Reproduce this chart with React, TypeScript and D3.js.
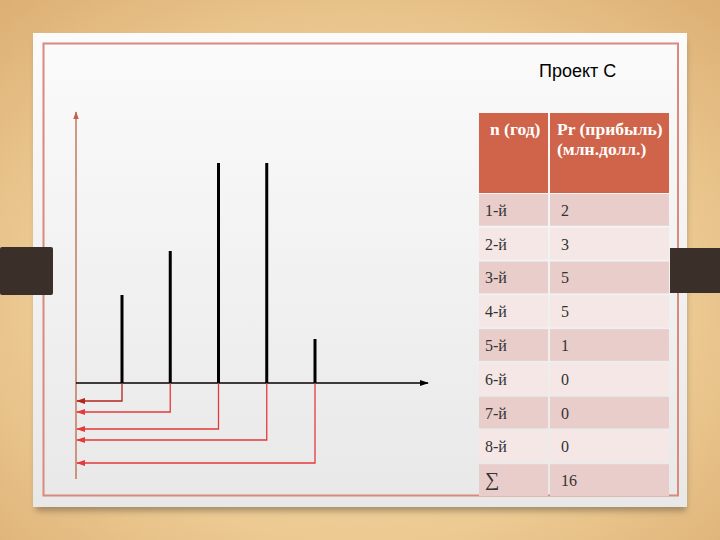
import React from 'react';
import * as d3 from 'd3';

const title = 'Проект С';
const yearLabels = ['1-й', '2-й', '3-й', '4-й', '5-й', '6-й', '7-й', '8-й'];
const profits = [2, 3, 5, 5, 1, 0, 0, 0];
const headerCol1 = 'n (год)';
const headerCol2 = ['Pr (прибыль)', '(млн.долл.)'];
const sumLabel = '∑';
// depth (px below axis) of each return arrow, in bar order
const returnDepths = [18, 29, 46, 57, 80];

const W = 720, H = 540;

export default function App() {
  const bars = profits
    .map((v, i) => ({ year: i + 1, value: v }))
    .filter((d) => d.value > 0);

  const x = d3.scaleLinear().domain([1, 5]).range([122, 315]);
  const y = d3.scaleLinear().domain([0, 5]).range([383, 163]);
  const axisX0 = 76;
  const axisY0 = y(0);

  const rows = [
    ...yearLabels.map((l, i) => ({ label: l, value: String(profits[i]) })),
    { label: sumLabel, value: String(d3.sum(profits)) },
  ];
  const rowScale = d3
    .scaleBand<string>()
    .domain(rows.map((r) => r.label))
    .range([193, 497]);
  const colX = [479, 549, 669];
  const headerTop = 113;

  const dark = '#e9cdca';
  const light = '#f4e7e6';
  const headFont = "'Liberation Serif', 'Times New Roman', serif";

  return (
    <svg
      width={W}
      height={H}
      style={{ position: 'absolute', left: 0, top: 0 }}
      xmlns="http://www.w3.org/2000/svg"
    >
      <defs>
        <radialGradient id="wood" cx="50%" cy="55%" r="75%">
          <stop offset="0%" stopColor="#f4ddb0" />
          <stop offset="60%" stopColor="#ecca92" />
          <stop offset="100%" stopColor="#dcae73" />
        </radialGradient>
        <linearGradient id="panel" x1="0" y1="0" x2="0" y2="1">
          <stop offset="0%" stopColor="#fbfbfb" />
          <stop offset="100%" stopColor="#e8e8e8" />
        </linearGradient>
        <filter id="shadow" x="-10%" y="-10%" width="120%" height="130%">
          <feGaussianBlur stdDeviation="3" />
        </filter>
        <marker id="arrBlack" viewBox="0 0 10 10" refX="9" refY="5" markerWidth="7" markerHeight="7" orient="auto">
          <path d="M0,1.5 L10,5 L0,8.5 z" fill="#000" />
        </marker>
        <marker id="arrAxis" viewBox="0 0 10 10" refX="9" refY="5" markerWidth="6" markerHeight="6" orient="auto">
          <path d="M0,1.5 L10,5 L0,8.5 z" fill="#c0634a" />
        </marker>
        <marker id="arrRed" viewBox="0 0 10 10" refX="9" refY="5" markerWidth="7" markerHeight="7" orient="auto">
          <path d="M0,1.5 L10,5 L0,8.5 z" fill="#e5393b" />
        </marker>
        <marker id="arrDark" viewBox="0 0 10 10" refX="9" refY="5" markerWidth="7" markerHeight="7" orient="auto">
          <path d="M0,1.5 L10,5 L0,8.5 z" fill="#b3261e" />
        </marker>
      </defs>

      {/* background */}
      <rect x={0} y={0} width={W} height={H} fill="url(#wood)" />
      {/* panel shadow */}
      <rect x={36} y={40} width={650} height={471} fill="#6b5a45" opacity={0.55} filter="url(#shadow)" />
      {/* panel */}
      <rect x={33} y={33} width={654} height={474} fill="url(#panel)" />
      {/* red frame */}
      <rect x={43.5} y={43.5} width={634.5} height={452} fill="none" stroke="#d98a7d" strokeWidth={2} />

      {/* side tabs */}
      <rect x={0} y={247} width={53} height={48} fill="#3a2f29" rx={2} />
      <rect x={670} y={248} width={50} height={45} fill="#3a2f29" />

      {/* title */}
      <text x={539} y={77} fontFamily="'Liberation Sans', Arial, sans-serif" fontSize={18} fill="#000">
        {title}
      </text>

      {/* vertical axis */}
      <line x1={axisX0} y1={479} x2={axisX0} y2={112} stroke="#c0634a" strokeWidth={1.3} markerEnd="url(#arrAxis)" />
      {/* horizontal axis */}
      <line x1={axisX0} y1={axisY0} x2={428} y2={axisY0} stroke="#000" strokeWidth={1.3} markerEnd="url(#arrBlack)" />

      {/* return connectors */}
      {bars.map((d, i) => {
        const bx = x(d.year);
        const yy = axisY0 + returnDepths[i];
        const col = i === 0 ? '#b3261e' : '#e5393b';
        return (
          <path
            key={'c' + i}
            d={`M${bx},${axisY0} L${bx},${yy} L${axisX0 + 1},${yy}`}
            fill="none"
            stroke={col}
            strokeWidth={1.3}
            markerEnd={i === 0 ? 'url(#arrDark)' : 'url(#arrRed)'}
          />
        );
      })}

      {/* bars */}
      {bars.map((d, i) => (
        <line
          key={'b' + i}
          x1={x(d.year)}
          x2={x(d.year)}
          y1={y(0)}
          y2={y(d.value)}
          stroke="#000"
          strokeWidth={3}
        />
      ))}

      {/* table header */}
      <rect x={colX[0]} y={headerTop} width={colX[1] - colX[0] - 1} height={80} fill="#d0644a" />
      <rect x={colX[1] + 1} y={headerTop} width={colX[2] - colX[1] - 1} height={80} fill="#d0644a" />
      <text x={490} y={135} fontFamily={headFont} fontWeight="bold" fontSize={17.5} fill="#fff">
        {headerCol1}
      </text>
      <text x={557} y={135} fontFamily={headFont} fontWeight="bold" fontSize={17.5} fill="#fff">
        {headerCol2[0]}
      </text>
      <text x={557} y={155} fontFamily={headFont} fontWeight="bold" fontSize={17.5} fill="#fff">
        {headerCol2[1]}
      </text>

      {/* table rows */}
      {rows.map((r, i) => {
        const ry = rowScale(r.label)!;
        const h = rowScale.bandwidth();
        const fill = i % 2 === 0 ? dark : light;
        return (
          <g key={'r' + i}>
            <rect x={colX[0]} y={ry + 1} width={colX[1] - colX[0] - 1} height={h - 2} fill={fill} />
            <rect x={colX[1] + 1} y={ry + 1} width={colX[2] - colX[1] - 1} height={h - 2} fill={fill} />
            <text
              x={485}
              y={ry + h / 2 + 6}
              fontFamily="'Liberation Serif', serif"
              fontSize={r.label === sumLabel ? 20 : 16}
              fill="#333"
            >
              {r.label}
            </text>
            <text x={561} y={ry + h / 2 + 6} fontFamily="'Liberation Serif', serif" fontSize={16} fill="#333">
              {r.value}
            </text>
          </g>
        );
      })}
    </svg>
  );
}
